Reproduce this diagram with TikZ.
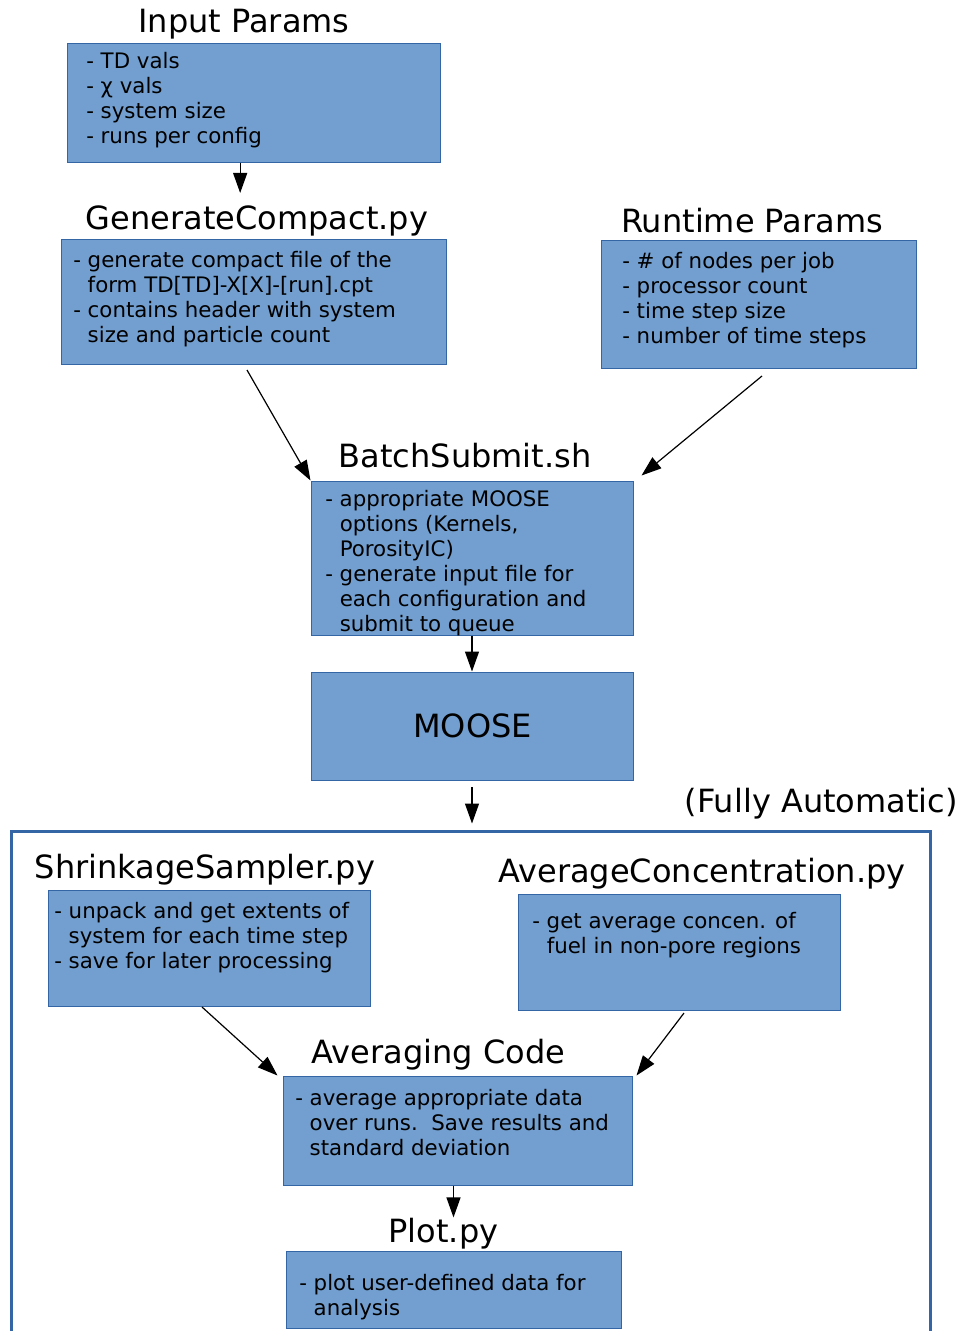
\documentclass[tikz,border=0pt]{standalone}
\usepackage{fontspec}
\setmainfont{DejaVu Sans}
\usetikzlibrary{arrows.meta,positioning,fit}
\definecolor{boxfill}{HTML}{729FCF}
\definecolor{boxedge}{HTML}{3465A4}
\newcommand{\ind}{\hphantom{- }}

\begin{document}
\begin{tikzpicture}[x=0.75pt, y=-0.75pt, >={Triangle[length=15pt,width=10.5pt]},
  box/.style={draw=boxedge, line width=0.75pt, fill=boxfill, inner sep=0pt},
  frame/.style={draw=boxedge, line width=2.25pt, inner sep=0pt},
  title/.style={anchor=base, inner sep=0pt, font=\fontsize{24}{28}\selectfont},
  body/.style={anchor=north west, inner sep=0pt, align=left, font=\fontsize{16}{18.75}\selectfont},
  link/.style={->, line width=0.9pt}]

  \useasboundingbox (0,0) rectangle (963,1331);

  % Define boxes
  \node[box, fit={(67,44) (440,162)}] (inp) {};
  \node[box, fit={(61,239) (446,364)}] (gc) {};
  \node[box, fit={(601,240) (916,368)}] (rt) {};
  \node[box, fit={(311,481) (633,635)}] (bs) {};
  \node[box, fit={(311,672) (633,780)}] (moose) {};
  \node[frame, fit={(11,831) (930,1345)}] (auto) {};
  \node[box, fit={(48,890) (370,1006)}] (ss) {};
  \node[box, fit={(518,894) (840,1010)}] (ac) {};
  \node[box, fit={(283,1076) (632,1185)}] (avg) {};
  \node[box, fit={(286,1251) (621,1328)}] (plot) {};

  % Titles
  \node[title] (inpT) at (244,33) {Input Params};
  \node[title] (gcT) at (257,229) {GenerateCompact.py};
  \node[title] (rtT) at (752,232) {Runtime Params};
  \node[title] (bsT) at (465,467) {BatchSubmit.sh};
  \node[title] (mooseT) at (472.5,737) {MOOSE};
  \node[title, anchor=base east] (autoT) at (958,812) {(Fully Automatic)};
  \node[title] (ssT) at (205,878) {ShrinkageSampler.py};
  \node[title] (acT) at (702,882) {AverageConcentration.py};
  \node[title] (avgT) at (438.5,1063) {Averaging Code};
  \node[title] (plotT) at (443.5,1242) {Plot.py};

  % Box contents
  \node[body] (inpX) at (86,52) {- TD vals\\- χ vals\\- system size\\- runs per config};
  \node[body] (gcX) at (73,251) {- generate compact file of the\\\ind form TD[TD]-X[X]-[run].cpt\\- contains header with system\\\ind size and particle count};
  \node[body] (rtX) at (622,252) {- \# of nodes per job\\- processor count\\- time step size\\- number of time steps};
  \node[body] (bsX) at (325,490) {- appropriate MOOSE\\\ind options (Kernels,\\\ind PorosityIC)\\- generate input file for\\\ind each configuration and\\\ind submit to queue};
  \node[body] (ssX) at (54,902) {- unpack and get extents of\\\ind system for each time step\\- save for later processing};
  \node[body] (acX) at (532,912) {- get average concen. of\\\ind fuel in non-pore regions};
  \node[body] (avgX) at (295,1089) {- average appropriate data\\\ind over runs.\ \ Save results and\\\ind standard deviation};
  \node[body] (plotX) at (299,1274) {- plot user-defined data for\\\ind analysis};

  % Free ends of the slanted arrows
  \coordinate (gcout) at (247,370);
  \coordinate (rtout) at (762,376);
  \coordinate (ssout) at (202,1007);
  \coordinate (acout) at (684,1013);

  % Draw arrows between nodes
  \draw[link, shorten >=9pt] ([xshift=-10pt]inp.south) -- ([xshift=-10pt]inp.south |- gcT.north);
  \draw[link] (gcout) -- (bs.north west);
  \draw[link] (rtout) -- ([xshift=6pt, yshift=3.75pt]bs.north east);
  \draw[link] (bs.south) -- (moose.north);
  \draw[link, shorten <=5pt, shorten >=4.5pt] (moose.south) -- (moose.south |- auto.north);
  \draw[link] (ssout) -- ([xshift=-3.75pt]avg.north west);
  \draw[link] (acout) -- ([xshift=3pt]avg.north east);
  \draw[link] ([xshift=-3pt]avg.south) -- ([xshift=-3pt]avg.south |- plotT.north);
\end{tikzpicture}
\end{document}
